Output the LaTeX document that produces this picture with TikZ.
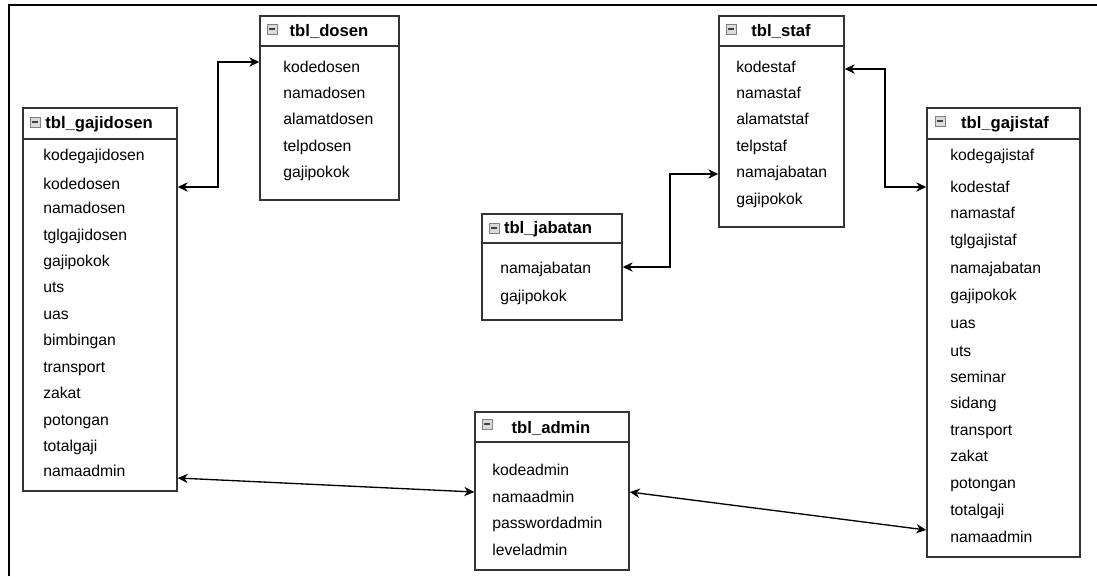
\documentclass[tikz,border=0pt]{standalone}
\usepackage{fontspec}
\setmainfont{Liberation Sans}
\usetikzlibrary{positioning,fit,arrows.meta}
\definecolor{garis}{rgb}{0.2,0.2,0.2}
\definecolor{ikon}{rgb}{0.85,0.85,0.87}
\tikzset{
  tabel/.style={rectangle, draw=garis, line width=1.1pt, inner sep=0pt},
  kepala/.style={draw=garis, line width=1.1pt},
  judul/.style={font=\fontsize{12.5}{14}\selectfont\bfseries, inner sep=0pt},
  kolom/.style={anchor=base west, font=\fontsize{11.8}{13}\selectfont, inner sep=0pt},
  minbox/.style={rectangle, draw=gray, fill=ikon, minimum size=7.5pt, inner sep=0pt,
    path picture={\draw[black!75, line width=0.8pt] ([xshift=1.6pt]path picture bounding box.west) -- ([xshift=-1.6pt]path picture bounding box.east);}},
  line/.style={draw, line width=1pt, {Stealth[length=7.5pt,width=7pt]}-{Stealth[length=7.5pt,width=7pt]}},
}

\begin{document}
\begin{tikzpicture}[x=0.75pt,y=-0.75pt]
    \useasboundingbox (0,0) rectangle (1097,576);
    \draw[line width=1.6pt] (9,576) -- (9,5) -- (1097,5);

    % tbl_dosen
    \node[tabel, fit={(260,16) (399,200)}] (dosen) {};
    \draw[kepala] (dosen.west |- 0,46) -- (dosen.east |- 0,46);
    \node[minbox] (dosen-ikon) at (272,29) {};
    \node[judul] (dosen-judul) at (329,31) {tbl\_dosen};
    \foreach \y/\f in {67/kodedosen, 93/namadosen, 119/alamatdosen, 146/telpdosen, 172/gajipokok}
      \node[kolom] (d-\f) at (283,\y+5) {\f};

    % tbl_gajidosen
    \node[tabel, fit={(23,108) (177,491)}] (gajidosen) {};
    \draw[kepala] (gajidosen.west |- 0,139) -- (gajidosen.east |- 0,139);
    \node[minbox] (gajidosen-ikon) at (35,122) {};
    \node[judul] (gajidosen-judul) at (99,124) {tbl\_gajidosen};
    \foreach \y/\f in {155/kodegajidosen, 184/kodedosen, 208/namadosen, 235/tglgajidosen,
        261/gajipokok, 287/uts, 314/uas, 340/bimbingan, 367/transport, 393/zakat,
        420/potongan, 446/totalgaji, 471/namaadmin}
      \node[kolom] (gd-\f) at (43,\y+5) {\f};

    % tbl_staf
    \node[tabel, fit={(719,16) (844,227)}] (staf) {};
    \draw[kepala] (staf.west |- 0,46) -- (staf.east |- 0,46);
    \node[minbox] (staf-ikon) at (731,29) {};
    \node[judul] (staf-judul) at (781,31) {tbl\_staf};
    \foreach \y/\f in {67/kodestaf, 93/namastaf, 119/alamatstaf, 146/telpstaf, 172/namajabatan, 199/gajipokok}
      \node[kolom] (s-\f) at (736,\y+5) {\f};

    % tbl_jabatan
    \node[tabel, fit={(482,214) (622,320)}] (jabatan) {};
    \draw[kepala] (jabatan.west |- 0,243) -- (jabatan.east |- 0,243);
    \node[minbox] (jabatan-ikon) at (494,228) {};
    \node[judul] (jabatan-judul) at (548,229) {tbl\_jabatan};
    \foreach \y/\f in {268/namajabatan, 296/gajipokok}
      \node[kolom] (j-\f) at (500,\y+5) {\f};

    % tbl_gajistaf
    \node[tabel, fit={(927,108) (1080,557)}] (gajistaf) {};
    \draw[kepala] (gajistaf.west |- 0,139) -- (gajistaf.east |- 0,139);
    \node[minbox] (gajistaf-ikon) at (940,121) {};
    \node[judul] (gajistaf-judul) at (1005,124) {tbl\_gajistaf};
    \foreach \y/\f in {155/kodegajistaf, 187/kodestaf, 213/namastaf, 240/tglgajistaf,
        268/namajabatan, 295/gajipokok, 323/uas, 351/uts, 377/seminar, 403/sidang,
        430/transport, 456/zakat, 483/potongan, 510/totalgaji, 537/namaadmin}
      \node[kolom] (gs-\f) at (950,\y+5) {\f};

    % tbl_admin
    \node[tabel, fit={(475,412) (629,570)}] (admin) {};
    \draw[kepala] (admin.west |- 0,442) -- (admin.east |- 0,442);
    \node[minbox] (admin-ikon) at (487,424) {};
    \node[judul] (admin-judul) at (551,428) {tbl\_admin};
    \foreach \y/\f in {470/kodeadmin, 497/namaadmin, 523/passwordadmin, 550/leveladmin}
      \node[kolom] (a-\f) at (492,\y+5) {\f};

    \begin{scope} [every path/.style=line]
      \path (gajidosen.east |- 0,187) -- (218,187) -- (218,62) -- (dosen.west |- 0,62);
      \path (staf.east |- 0,69) -- (885,69) -- (885,187) -- (gajistaf.west |- 0,187);
      \path (jabatan.east |- 0,267) -- (670,267) -- (670,174) -- (staf.west |- 0,174);
      \path (gajidosen.east |- 0,478) -- (admin.west |- 0,492);
      \path (admin.east |- 0,492) -- (gajistaf.west |- 0,530);
    \end{scope}
\end{tikzpicture}
\end{document}
